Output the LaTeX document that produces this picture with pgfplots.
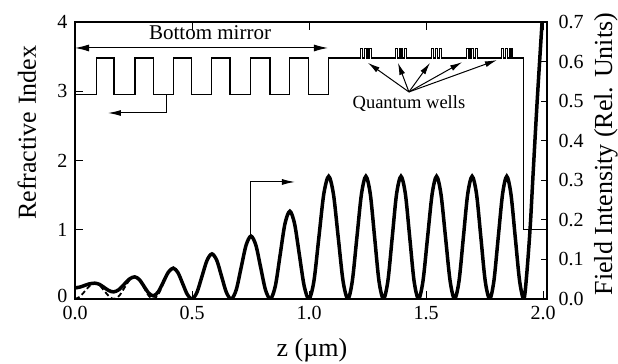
\documentclass[border=0pt]{standalone}
\usepackage{fontspec}
\setmainfont{Liberation Serif}
\usepackage{pgfplots}
\pgfplotsset{compat=1.18}
\usetikzlibrary{arrows.meta}
\begin{document}
\begin{tikzpicture}
\begin{axis}[
  at={(75bp,65bp)}, anchor=south west,
  scale only axis, width=472bp, height=277bp,
  xmin=0, xmax=2.017, ymin=0, ymax=4,
  xtick={0,0.5,1,1.5,2}, xticklabels={0.0,0.5,1.0,1.5,2.0},
  ytick={0,1,2,3,4}, yticklabels={\raisebox{5.5bp}{0},1,2,3,4},
  tick align=inside, xtick pos=both, ytick pos=left,
  major tick length=8bp,
  axis line style={line width=1.1bp},
  tick style={line width=1bp, black},
  ticklabel style={font=\fontsize{20bp}{24bp}\selectfont},
  xticklabel style={yshift=-4bp},
  yticklabel style={xshift=-4bp},
  xlabel={z (µm)}, ylabel={Refractive Index},
  label style={font=\fontsize{26bp}{30bp}\selectfont},
  xlabel style={at={(axis description cs:0.502,-0.184)}, anchor=center},
  ylabel style={at={(axis description cs:-0.102,0.6)}, anchor=center},
]
\addplot[black, line width=1.2bp] coordinates {
(0,2.95)(0.093,2.95)(0.093,3.48)(0.167,3.48)(0.167,2.95)(0.256,2.95)(0.256,3.48)(0.334,3.48)
(0.334,2.95)(0.420,2.95)(0.420,3.48)(0.498,3.48)(0.498,2.95)(0.584,2.95)(0.584,3.48)(0.662,3.48)
(0.662,2.95)(0.751,2.95)(0.751,3.48)(0.833,3.48)(0.833,2.95)(0.916,2.95)(0.916,3.48)(0.997,3.48)
(0.997,2.95)(1.083,2.95)(1.083,3.48)
(1.2205,3.48)(1.2205,3.62)(1.2295,3.62)(1.2295,3.48)(1.2385,3.48)(1.2385,3.62)(1.2475,3.62)(1.2475,3.48)(1.2565,3.48)(1.2565,3.62)(1.2655,3.62)(1.2655,3.48)
(1.3705,3.48)(1.3705,3.62)(1.3795,3.62)(1.3795,3.48)(1.3885,3.48)(1.3885,3.62)(1.3975,3.62)(1.3975,3.48)(1.4065,3.48)(1.4065,3.62)(1.4155,3.62)(1.4155,3.48)
(1.5225,3.48)(1.5225,3.62)(1.5315,3.62)(1.5315,3.48)(1.5405,3.48)(1.5405,3.62)(1.5495,3.62)(1.5495,3.48)(1.5585,3.48)(1.5585,3.62)(1.5675,3.62)(1.5675,3.48)
(1.6745,3.48)(1.6745,3.62)(1.6835,3.62)(1.6835,3.48)(1.6925,3.48)(1.6925,3.62)(1.7015,3.62)(1.7015,3.48)(1.7105,3.48)(1.7105,3.62)(1.7195,3.62)(1.7195,3.48)
(1.8225,3.48)(1.8225,3.62)(1.8315,3.62)(1.8315,3.48)(1.8405,3.48)(1.8405,3.62)(1.8495,3.62)(1.8495,3.48)(1.8585,3.48)(1.8585,3.62)(1.8675,3.62)(1.8675,3.48)
(1.915,3.48)(1.915,1.0)(2.017,1.0)
};
\draw[{Latex[length=14bp,width=7bp]}-{Latex[length=14bp,width=7bp]}, line width=1bp] (0,3.625) -- (1.081,3.625);
\node[font=\fontsize{21bp}{24bp}\selectfont] at (0.577,3.84) {Bottom mirror};
\draw[-{Latex[length=13bp,width=6bp]}, line width=1bp] (0.389,2.95) -- (0.389,2.686) -- (0.141,2.686);
\draw[-{Latex[length=13bp,width=6bp]}, line width=1bp] (0.752,0.91) -- (0.752,1.69) -- (0.94,1.69);
\node[font=\fontsize{18.5bp}{22bp}\selectfont] at (1.427,2.816) {Quantum wells};
\draw[-{Latex[length=12bp,width=6bp]}, line width=1bp] (1.427,2.99) -- (1.252,3.41);
\draw[-{Latex[length=12bp,width=6bp]}, line width=1bp] (1.427,2.99) -- (1.380,3.41);
\draw[-{Latex[length=12bp,width=6bp]}, line width=1bp] (1.427,2.99) -- (1.517,3.41);
\draw[-{Latex[length=12bp,width=6bp]}, line width=1bp] (1.427,2.99) -- (1.654,3.42);
\draw[-{Latex[length=12bp,width=6bp]}, line width=1bp] (1.427,2.99) -- (1.803,3.45);
\end{axis}
\begin{axis}[
  at={(75bp,65bp)}, anchor=south west,
  scale only axis, width=472bp, height=277bp,
  xmin=0, xmax=2.017, ymin=0, ymax=0.7,
  axis x line=none, axis y line*=right,
  ytick={0,0.1,0.2,0.3,0.4,0.5,0.6,0.7},
  yticklabels={0.0,0.1,0.2,0.3,0.4,0.5,0.6,0.7},
  tick align=inside, major tick length=6bp,
  axis line style={line width=1.1bp},
  tick style={line width=1bp, black},
  ticklabel style={font=\fontsize{20bp}{24bp}\selectfont},
  yticklabel style={xshift=8bp},
  ylabel={Field Intensity (Rel. Units)},
  label style={font=\fontsize{26bp}{30bp}\selectfont},
  ylabel style={at={(axis description cs:1.125,0.523)}, anchor=center},
]
\addplot[black, line width=3.5bp, smooth] coordinates {
(0,0.028)(0.02,0.030)(0.04,0.034)(0.06,0.038)(0.085,0.040)
(0.105,0.0368)(0.125,0.029)(0.145,0.0212)(0.165,0.018)
(0.1875,0.0235)(0.21,0.037)(0.2325,0.0504)(0.255,0.056)
(0.275,0.049)(0.295,0.032)(0.315,0.015)(0.335,0.008)
(0.356,0.0182)(0.3775,0.043)(0.399,0.0678)(0.42,0.078)
(0.44,0.0666)(0.46,0.039)(0.48,0.0114)(0.5,0)
(0.521,0.0166)(0.5425,0.057)(0.564,0.0974)(0.585,0.114)
(0.606,0.0974)(0.6265,0.057)(0.647,0.0166)(0.668,0)
(0.689,0.0232)(0.71,0.0795)(0.731,0.1358)(0.752,0.159)
(0.773,0.1358)(0.7935,0.0795)(0.814,0.0232)(0.835,0)
(0.856,0.0324)(0.8765,0.111)(0.897,0.1896)(0.918,0.222)
(0.9385,0.1896)(0.959,0.111)(0.9795,0.0324)(1.0,0)
(1.021,0.0453)(1.042,0.155)(1.063,0.2647)(1.084,0.31)
(1.1045,0.2647)(1.125,0.155)(1.1455,0.0453)(1.166,0)
(1.185,0.0453)(1.2045,0.155)(1.224,0.2647)(1.243,0.31)
(1.262,0.2647)(1.2805,0.155)(1.299,0.0453)(1.318,0)
(1.337,0.0453)(1.3555,0.155)(1.374,0.2647)(1.393,0.31)
(1.412,0.2647)(1.4305,0.155)(1.449,0.0453)(1.468,0)
(1.487,0.0453)(1.5065,0.155)(1.526,0.2647)(1.545,0.31)
(1.564,0.2647)(1.5835,0.155)(1.603,0.0453)(1.622,0)
(1.641,0.0453)(1.6595,0.155)(1.678,0.2647)(1.697,0.31)
(1.716,0.2647)(1.7345,0.155)(1.753,0.0453)(1.772,0)
(1.79,0.0453)(1.8085,0.155)(1.827,0.2647)(1.845,0.31)
(1.863,0.2647)(1.8815,0.155)(1.9,0.0453)(1.918,0)
(1.93,0.06)(1.945,0.18)(1.957,0.31)(1.975,0.5)(1.996,0.7)(2.005,0.78)
};
\addplot[black, line width=1.8bp, dash pattern=on 5bp off 3bp, smooth] coordinates {
(0,0)(0.021,0.0059)(0.0425,0.02)(0.064,0.0341)(0.085,0.04)
(0.1055,0.0341)(0.126,0.02)(0.1465,0.0059)(0.167,0)
(0.189,0.0082)(0.211,0.028)(0.233,0.0478)(0.255,0.056)
(0.275,0.0478)(0.295,0.028)(0.315,0.0082)(0.335,0)
(0.356,0.0114)(0.3775,0.039)(0.399,0.0666)(0.42,0.078)
(0.44,0.0666)(0.46,0.039)(0.48,0.0114)(0.5,0)
};
\end{axis}
\pgfresetboundingbox
\useasboundingbox (0,0) rectangle (618bp,364bp);
\end{tikzpicture}
\end{document}
